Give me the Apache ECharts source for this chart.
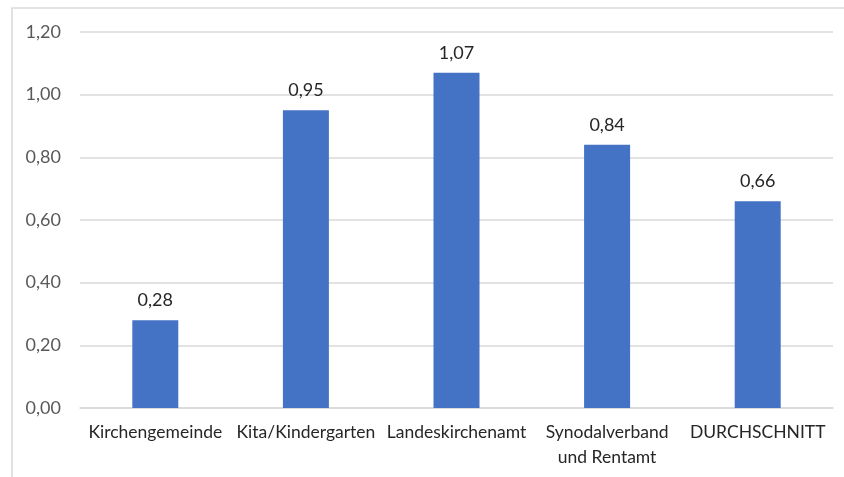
<!DOCTYPE html>
<html><head><meta charset="utf-8">
<script src="https://cdn.jsdelivr.net/npm/echarts@6/dist/echarts.min.js"></script>
<style>html,body{margin:0;padding:0;background:#fff}#c{width:844px;height:477px}</style>
</head><body><div id="c"></div>
<script>
const categories = ['Kirchengemeinde', 'Kita/Kindergarten', 'Landeskirchenamt', 'Synodalverband\nund Rentamt', 'DURCHSCHNITT'];
const values = [0.28, 0.95, 1.07, 0.84, 0.66];
const yMin = 0, yMax = 1.2, yStep = 0.2;
const fmt = v => v.toFixed(2).replace('.', ',');
const chart = echarts.init(document.getElementById('c'));
chart.setOption({
  animation: false,
  textStyle: { fontFamily: 'Lato' },
  graphic: [{ type: 'rect', shape: { x: 12, y: 8, width: 840, height: 480 }, style: { fill: 'none', stroke: '#d9d9d9', lineWidth: 1.5 } }],
  grid: { left: 80, right: 11, top: 32, bottom: 69 },
  xAxis: {
    type: 'category', data: categories,
    axisLine: { lineStyle: { color: '#d9d9d9', width: 1.5 } },
    axisTick: { show: false },
    axisLabel: { color: '#262626', fontSize: 17.5, margin: 12, interval: 0, lineHeight: 25 }
  },
  yAxis: {
    type: 'value', min: yMin, max: yMax, interval: yStep,
    axisLine: { show: false }, axisTick: { show: false },
    splitLine: { lineStyle: { color: '#d9d9d9', width: 1.5 } },
    axisLabel: { color: '#595959', fontSize: 18, margin: 19, formatter: v => fmt(v) }
  },
  series: [{
    type: 'bar', data: values, barWidth: 46,
    itemStyle: { color: '#4472C4' },
    label: { show: true, position: 'top', distance: 11, color: '#262626', fontSize: 18, formatter: p => fmt(p.value) }
  }]
});
</script></body></html>
